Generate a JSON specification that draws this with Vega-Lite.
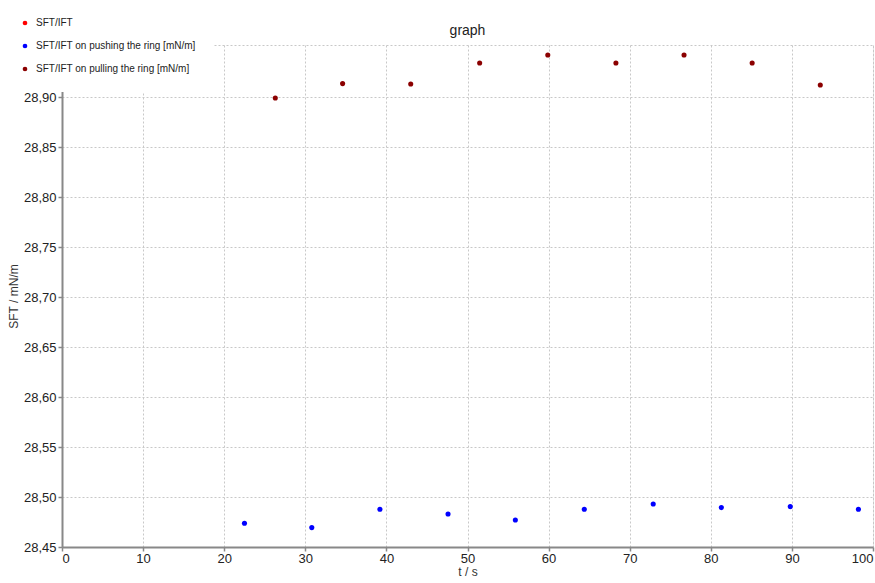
{
  "$schema": "https://vega.github.io/schema/vega-lite/v6.json",
  "autosize": "none",
  "width": 811,
  "height": 502,
  "padding": {"left": 62, "top": 45, "right": 2, "bottom": 36},
  "background": "white",
  "title": {"text": "graph", "fontSize": 14, "fontWeight": "normal", "font": "Liberation Sans", "color": "#222", "offset": -38, "anchor": "middle"},
  "config": {
    "font": "Liberation Sans",
    "view": {"stroke": "#c8c8c8", "strokeDash": [2, 2], "strokeWidth": 1}
  },
  "data": {
    "values": [
      {"t": 26.3, "sft": 28.899, "series": "SFT/IFT on pulling the ring [mN/m]"},
      {"t": 34.6, "sft": 28.9134, "series": "SFT/IFT on pulling the ring [mN/m]"},
      {"t": 43.0, "sft": 28.913, "series": "SFT/IFT on pulling the ring [mN/m]"},
      {"t": 51.5, "sft": 28.934, "series": "SFT/IFT on pulling the ring [mN/m]"},
      {"t": 59.9, "sft": 28.942, "series": "SFT/IFT on pulling the ring [mN/m]"},
      {"t": 68.3, "sft": 28.934, "series": "SFT/IFT on pulling the ring [mN/m]"},
      {"t": 76.7, "sft": 28.942, "series": "SFT/IFT on pulling the ring [mN/m]"},
      {"t": 85.1, "sft": 28.934, "series": "SFT/IFT on pulling the ring [mN/m]"},
      {"t": 93.5, "sft": 28.912, "series": "SFT/IFT on pulling the ring [mN/m]"},
      {"t": 22.5, "sft": 28.4737, "series": "SFT/IFT on pushing the ring [mN/m]"},
      {"t": 30.8, "sft": 28.4694, "series": "SFT/IFT on pushing the ring [mN/m]"},
      {"t": 39.2, "sft": 28.4877, "series": "SFT/IFT on pushing the ring [mN/m]"},
      {"t": 47.6, "sft": 28.483, "series": "SFT/IFT on pushing the ring [mN/m]"},
      {"t": 55.9, "sft": 28.477, "series": "SFT/IFT on pushing the ring [mN/m]"},
      {"t": 64.4, "sft": 28.4877, "series": "SFT/IFT on pushing the ring [mN/m]"},
      {"t": 72.9, "sft": 28.493, "series": "SFT/IFT on pushing the ring [mN/m]"},
      {"t": 81.3, "sft": 28.4894, "series": "SFT/IFT on pushing the ring [mN/m]"},
      {"t": 89.8, "sft": 28.4904, "series": "SFT/IFT on pushing the ring [mN/m]"},
      {"t": 98.2, "sft": 28.4877, "series": "SFT/IFT on pushing the ring [mN/m]"}
    ]
  },
  "mark": {"type": "point", "filled": true, "size": 26, "opacity": 1},
  "encoding": {
    "x": {
      "field": "t", "type": "quantitative",
      "scale": {"domain": [0, 100], "nice": false, "zero": false},
      "axis": {
        "title": "t / s", "titleFontSize": 12, "titleFontWeight": "normal", "titleColor": "#333", "titlePadding": 1,
        "values": [0, 10, 20, 30, 40, 50, 60, 70, 80, 90, 100],
        "labelFontSize": 13, "labelColor": "#222", "labelPadding": 1,
        "domainColor": "#888", "domainWidth": 2, "tickColor": "#888", "tickSize": 4, "tickWidth": 1.5,
        "gridColor": "#c8c8c8", "gridDash": [2, 2], "gridWidth": 1
      }
    },
    "y": {
      "field": "sft", "type": "quantitative",
      "scale": {"domain": [28.45, 28.952], "nice": false, "zero": false},
      "axis": {
        "title": "SFT / mN/m", "titleFontSize": 12, "titleFontWeight": "normal", "titleColor": "#333", "titlePadding": 3,
        "values": [28.45, 28.5, 28.55, 28.6, 28.65, 28.7, 28.75, 28.8, 28.85, 28.9],
        "labelExpr": "replace(format(datum.value, '.2f'), '.', ',')",
        "labelFontSize": 13, "labelColor": "#222", "labelPadding": 2,
        "domainColor": "#888", "domainWidth": 2, "tickColor": "#888", "tickSize": 4, "tickWidth": 1.5,
        "gridColor": "#c8c8c8", "gridDash": [2, 2], "gridWidth": 1
      }
    },
    "color": {
      "field": "series", "type": "nominal",
      "scale": {
        "domain": ["SFT/IFT", "SFT/IFT on pushing the ring [mN/m]", "SFT/IFT on pulling the ring [mN/m]"],
        "range": ["#ff0000", "#0000ff", "#8b0000"]
      },
      "legend": {
        "title": null, "orient": "none", "legendX": -60, "legendY": -45,
        "fillColor": "white", "padding": 18, "rowPadding": 13, "zindex": 5,
        "symbolType": "circle", "symbolSize": 22, "symbolOpacity": 1,
        "labelFontSize": 10, "labelColor": "#222", "labelOffset": 6,
        "labelLimit": 300
      }
    }
  }
}
